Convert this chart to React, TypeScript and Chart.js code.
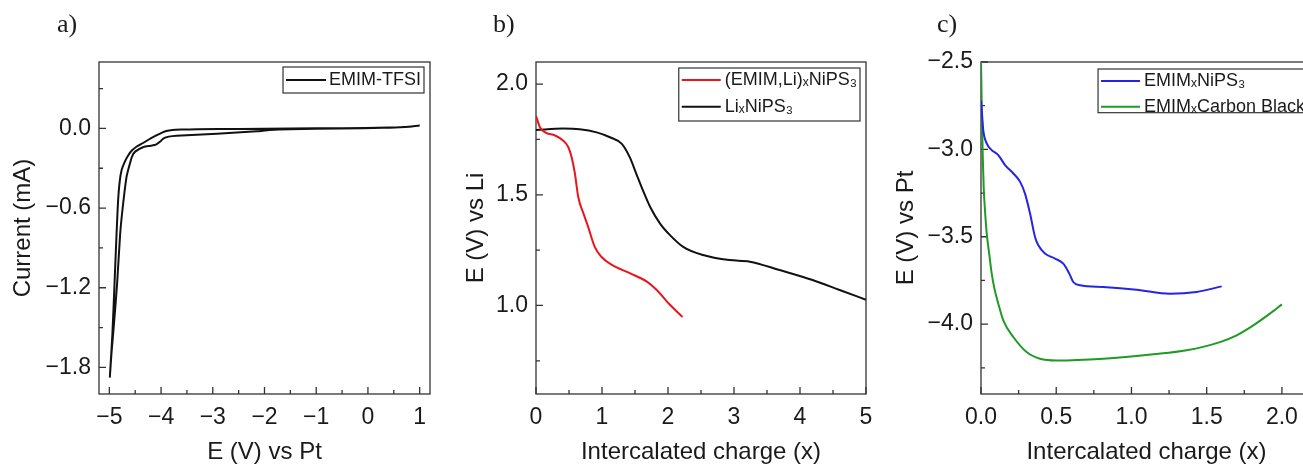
import React, { useEffect, useRef } from 'react';
import { Chart, registerables } from 'chart.js';
Chart.register(...registerables);

// ---------- Panel a: cyclic voltammogram ----------
const CV_E = [1.0, 0.8, 0.4, -0.5, -1.5, -2.5, -3.3, -3.6, -3.78, -3.9, -4.0, -4.1, -4.2, -4.34, -4.47, -4.56, -4.63, -4.7, -4.76, -4.8, -4.83, -4.86, -4.9, -4.94, -4.99,
  -4.96, -4.925, -4.85, -4.79, -4.74, -4.67, -4.62, -4.56, -4.5, -4.34, -4.2, -4.1, -4.02, -3.95, -3.85, -3.7, -2.92, -2.15, -1.9, -1.5, -0.5, 0.3, 0.7, 1.0];
const CV_I = [0.022, 0.012, 0.006, 0.002, 0.0, -0.004, -0.007, -0.009, -0.012, -0.02, -0.035, -0.055, -0.075, -0.108, -0.136, -0.165, -0.2, -0.25, -0.31, -0.4, -0.54, -0.79, -1.17, -1.54, -1.87,
  -1.7, -1.54, -1.17, -0.79, -0.59, -0.37, -0.29, -0.21, -0.175, -0.14, -0.13, -0.122, -0.1, -0.075, -0.062, -0.055, -0.04, -0.022, -0.012, -0.006, -0.001, 0.004, 0.01, 0.022];
const A_X_TICKS = [-5, -4, -3, -2, -1, 0, 1];
const A_X_LABELS = ['\u22125', '\u22124', '\u22123', '\u22122', '\u22121', '0', '1'];
const A_Y_TICKS = [-1.8, -1.2, -0.6, 0];
const A_Y_LABELS = ['\u22121.8', '\u22121.2', '\u22120.6', '0.0'];

// ---------- Panel b: E vs Li ----------
const RED_X = [0, 0.06, 0.14, 0.29, 0.41, 0.49, 0.54, 0.59, 0.64, 0.72, 0.79, 0.89, 0.99, 1.15, 1.42, 1.68, 1.83, 2.03, 2.22];
const RED_Y = [1.857, 1.805, 1.782, 1.768, 1.745, 1.715, 1.67, 1.595, 1.49, 1.415, 1.355, 1.265, 1.22, 1.183, 1.146, 1.108, 1.07, 1.003, 0.948];
const BLK_X = [0, 0.41, 0.66, 0.92, 1.12, 1.3, 1.42, 1.52, 1.62, 1.73, 1.88, 2.03, 2.23, 2.53, 2.93, 3.24, 3.69, 4.19, 4.6, 5.0];
const BLK_Y = [1.793, 1.799, 1.796, 1.782, 1.76, 1.73, 1.67, 1.595, 1.52, 1.445, 1.37, 1.318, 1.265, 1.228, 1.205, 1.198, 1.16, 1.115, 1.07, 1.026];
const B_X_TICKS = [0, 1, 2, 3, 4, 5];
const B_X_LABELS = ['0', '1', '2', '3', '4', '5'];
const B_Y_TICKS = [1.0, 1.5, 2.0];
const B_Y_LABELS = ['1.0', '1.5', '2.0'];

// ---------- Panel c: E vs Pt ----------
const BLUE_X = [0, 0.007, 0.015, 0.038, 0.071, 0.115, 0.16, 0.215, 0.26, 0.292, 0.326, 0.359, 0.381, 0.425, 0.492, 0.547, 0.587, 0.613, 0.658, 0.813, 1.034, 1.256, 1.433, 1.6];
const BLUE_Y = [-2.72, -2.8, -2.89, -2.966, -3.004, -3.033, -3.09, -3.138, -3.186, -3.252, -3.367, -3.501, -3.549, -3.596, -3.625, -3.654, -3.711, -3.759, -3.778, -3.788, -3.803, -3.826, -3.816, -3.784];
const GRN_X = [0, 0.006, 0.012, 0.018, 0.025, 0.038, 0.055, 0.071, 0.09, 0.115, 0.148, 0.215, 0.303, 0.392, 0.503, 0.813, 1.145, 1.367, 1.588, 1.699, 1.81, 1.92, 2.0];
const GRN_Y = [-2.5, -2.8, -3.05, -3.22, -3.33, -3.48, -3.6, -3.71, -3.8, -3.883, -3.978, -4.074, -4.16, -4.198, -4.208, -4.198, -4.173, -4.15, -4.103, -4.064, -4.007, -3.94, -3.887];
const C_X_TICKS = [0, 0.5, 1.0, 1.5, 2.0];
const C_X_LABELS = ['0.0', '0.5', '1.0', '1.5', '2.0'];
const C_Y_TICKS = [-4.0, -3.5, -3.0, -2.5];
const C_Y_LABELS = ['\u22124.0', '\u22123.5', '\u22123.0', '\u22122.5'];

const SANS = '"Liberation Sans", Arial, sans-serif';
const SERIF = '"Liberation Serif", "Times New Roman", serif';
const INK = '#1a1a1a';
const FRAME = '#333333';

const pts = (xs: number[], ys: number[]) => xs.map((x, i) => ({ x, y: ys[i] }));

function minors(majors: number[], min: number, max: number) {
  const step = majors[1] - majors[0];
  const out: number[] = [majors[0] - step / 2];
  majors.forEach((m) => out.push(m + step / 2));
  return out.filter((v) => v >= min - 1e-9 && v <= max + 1e-9);
}

const panelPlugin = {
  id: 'panel',
  beforeDatasetsDraw(chart: any, _args: any, opts: any) {
    const { ctx, chartArea } = chart;
    const { left, top, right, bottom } = chartArea;
    const xs = chart.scales.x;
    const ys = chart.scales.y;
    ctx.save();
    ctx.strokeStyle = FRAME;
    ctx.lineWidth = 1.3;
    ctx.strokeRect(left, top, right - left, bottom - top);
    ctx.beginPath();
    const xMaj = opts.xTicks, yMaj = opts.yTicks;
    const xMin = minors(xMaj, xs.min, xs.max);
    const yMin = minors(yMaj, ys.min, ys.max);
    xMaj.forEach((v: number) => { const p = xs.getPixelForValue(v); ctx.moveTo(p, bottom); ctx.lineTo(p, bottom - 7); });
    xMin.forEach((v: number) => { const p = xs.getPixelForValue(v); ctx.moveTo(p, bottom); ctx.lineTo(p, bottom - 4); });
    yMaj.forEach((v: number) => { const p = ys.getPixelForValue(v); ctx.moveTo(left, p); ctx.lineTo(left + 7, p); });
    yMin.forEach((v: number) => { const p = ys.getPixelForValue(v); ctx.moveTo(left, p); ctx.lineTo(left + 4, p); });
    ctx.stroke();
    // panel letter
    ctx.fillStyle = INK;
    ctx.font = '26px ' + SERIF;
    ctx.textAlign = 'left';
    ctx.textBaseline = 'alphabetic';
    ctx.fillText(opts.letter, opts.letterX, 32);
    ctx.restore();
  },
  afterDatasetsDraw(chart: any, _args: any, opts: any) {
    const { ctx, chartArea } = chart;
    const L = opts.legend;
    const items = chart.data.datasets.map((d: any) => ({ label: d.label, color: d.borderColor }));
    ctx.save();
    ctx.font = L.size + 'px ' + SANS;
    const tw = Math.max(...items.map((it: any) => ctx.measureText(it.label).width));
    const w = L.padL + L.lineLen + L.gap + tw + L.padR;
    const h = L.padTop + (items.length - 1) * L.rowH + L.padBottom;
    const x0 = chartArea.right - L.right - w;
    const y0 = chartArea.top + L.top;
    ctx.fillStyle = '#ffffff';
    ctx.fillRect(x0, y0, w, h);
    ctx.strokeStyle = FRAME;
    ctx.lineWidth = 1.2;
    ctx.strokeRect(x0, y0, w, h);
    items.forEach((it: any, i: number) => {
      const y = y0 + L.padTop + i * L.rowH;
      ctx.strokeStyle = it.color;
      ctx.lineWidth = 2;
      ctx.beginPath();
      ctx.moveTo(x0 + L.padL, y);
      ctx.lineTo(x0 + L.padL + L.lineLen, y);
      ctx.stroke();
      ctx.fillStyle = INK;
      ctx.textAlign = 'left';
      ctx.textBaseline = 'middle';
      ctx.fillText(it.label, x0 + L.padL + L.lineLen + L.gap, y);
    });
    ctx.restore();
  },
};

function makeConfig(p: any) {
  const lab = (ticks: number[], labels: string[]) => (v: number) => {
    const i = ticks.indexOf(v);
    return i >= 0 ? labels[i] : '';
  };
  return {
    type: 'line',
    data: { datasets: p.datasets },
    options: {
      animation: false,
      responsive: false,
      maintainAspectRatio: false,
      devicePixelRatio: 1,
      events: [],
      layout: { padding: { left: p.boxLeft, top: p.top, right: p.canvasW - p.right, bottom: 0 } },
      elements: { point: { radius: 0 } },
      plugins: {
        legend: { display: false },
        tooltip: { enabled: false },
        panel: { xTicks: p.xTicks, yTicks: p.yTicks, letter: p.letter, letterX: p.letterX, legend: p.legend },
      },
      scales: {
        x: {
          type: 'linear',
          min: p.xMin,
          max: p.xMax,
          grid: { display: false, drawTicks: false },
          border: { display: false },
          afterBuildTicks: (s: any) => { s.ticks = p.xTicks.map((v: number) => ({ value: v })); },
          afterFit: (s: any) => { s.height = p.canvasH - p.bottom; },
          ticks: { autoSkip: false, maxRotation: 0, padding: 10, color: INK, font: { family: SANS, size: 23 }, callback: lab(p.xTicks, p.xLabels) },
          title: { display: true, text: p.xTitle, color: INK, font: { family: SANS, size: 24 }, padding: { top: 0, bottom: -3 } },
        },
        y: {
          type: 'linear',
          min: p.yMin,
          max: p.yMax,
          grid: { display: false, drawTicks: false },
          border: { display: false },
          afterBuildTicks: (s: any) => { s.ticks = p.yTicks.map((v: number) => ({ value: v })); },
          afterFit: (s: any) => { s.width = p.left - p.boxLeft; },
          ticks: { autoSkip: false, padding: 8, color: INK, font: { family: SANS, size: 23 }, callback: lab(p.yTicks, p.yLabels) },
          title: { display: true, text: p.yTitle, color: INK, font: { family: SANS, size: 24 }, padding: 0 },
        },
      },
    },
    plugins: [panelPlugin],
  };
}

const H = 464;

const PANELS = [
  {
    canvasW: 1303, canvasH: H, boxLeft: 8.6, left: 99, right: 430, top: 62, bottom: 394,
    xMin: -5.2, xMax: 1.2, yMin: -2.0, yMax: 0.5,
    xTicks: A_X_TICKS, xLabels: A_X_LABELS, yTicks: A_Y_TICKS, yLabels: A_Y_LABELS,
    xTitle: 'E (V) vs Pt', yTitle: 'Current (mA)', letter: 'a)', letterX: 57,
    legend: { size: 18, right: 6, top: 5, padL: 3, lineLen: 40, gap: 3, padR: 3, padTop: 13, rowH: 26, padBottom: 13 },
    datasets: [
      { label: 'EMIM-TFSI', data: pts(CV_E, CV_I), borderColor: '#111111', borderWidth: 2, tension: 0.25, fill: false },
    ],
  },
  {
    canvasW: 1303, canvasH: H, boxLeft: 462.3, left: 536, right: 866, top: 62, bottom: 394,
    xMin: 0, xMax: 5, yMin: 0.6, yMax: 2.1,
    xTicks: B_X_TICKS, xLabels: B_X_LABELS, yTicks: B_Y_TICKS, yLabels: B_Y_LABELS,
    xTitle: 'Intercalated charge (x)', yTitle: 'E (V) vs Li', letter: 'b)', letterX: 493,
    legend: { size: 18, right: 6, top: 6, padL: 3, lineLen: 39, gap: 4, padR: 3, padTop: 12, rowH: 26.7, padBottom: 14.3 },
    datasets: [
      { label: '(EMIM,Li)\u2093NiPS\u2083', data: pts(RED_X, RED_Y), borderColor: '#e8161c', borderWidth: 2, cubicInterpolationMode: 'monotone', fill: false },
      { label: 'Li\u2093NiPS\u2083', data: pts(BLK_X, BLK_Y), borderColor: '#111111', borderWidth: 2, cubicInterpolationMode: 'monotone', fill: false },
    ],
  },
  {
    canvasW: 1340, canvasH: H, boxLeft: 892.3, left: 981, right: 1312, top: 62, bottom: 394,
    xMin: 0, xMax: 2.2, yMin: -4.4, yMax: -2.5,
    xTicks: C_X_TICKS, xLabels: C_X_LABELS, yTicks: C_Y_TICKS, yLabels: C_Y_LABELS,
    xTitle: 'Intercalated charge (x)', yTitle: 'E (V) vs Pt', letter: 'c)', letterX: 937,
    legend: { size: 18, right: 4, top: 7, padL: 3, lineLen: 39, gap: 4, padR: 3, padTop: 12, rowH: 25.7, padBottom: 6 },
    datasets: [
      { label: 'EMIM\u2093NiPS\u2083', data: pts(BLUE_X, BLUE_Y), borderColor: '#2424e6', borderWidth: 2, cubicInterpolationMode: 'monotone', fill: false },
      { label: 'EMIM\u2093Carbon Black', data: pts(GRN_X, GRN_Y), borderColor: '#1f9a24', borderWidth: 2, cubicInterpolationMode: 'monotone', fill: false },
    ],
  },
];

export default function App() {
  const refs = [useRef<HTMLCanvasElement>(null), useRef<HTMLCanvasElement>(null), useRef<HTMLCanvasElement>(null)];
  useEffect(() => {
    const charts = PANELS.map((p, i) => new Chart(refs[i].current as HTMLCanvasElement, makeConfig(p) as any));
    return () => charts.forEach((c) => c.destroy());
  }, []);
  return (
    <div style={{ position: 'fixed', left: 0, top: 0, width: 1303, height: H, overflow: 'hidden', background: '#ffffff' }}>
      {PANELS.map((p, i) => (
        <canvas
          key={i}
          ref={refs[i]}
          width={p.canvasW}
          height={p.canvasH}
          style={{ position: 'absolute', left: 0, top: 0, width: p.canvasW, height: p.canvasH }}
        />
      ))}
    </div>
  );
}
